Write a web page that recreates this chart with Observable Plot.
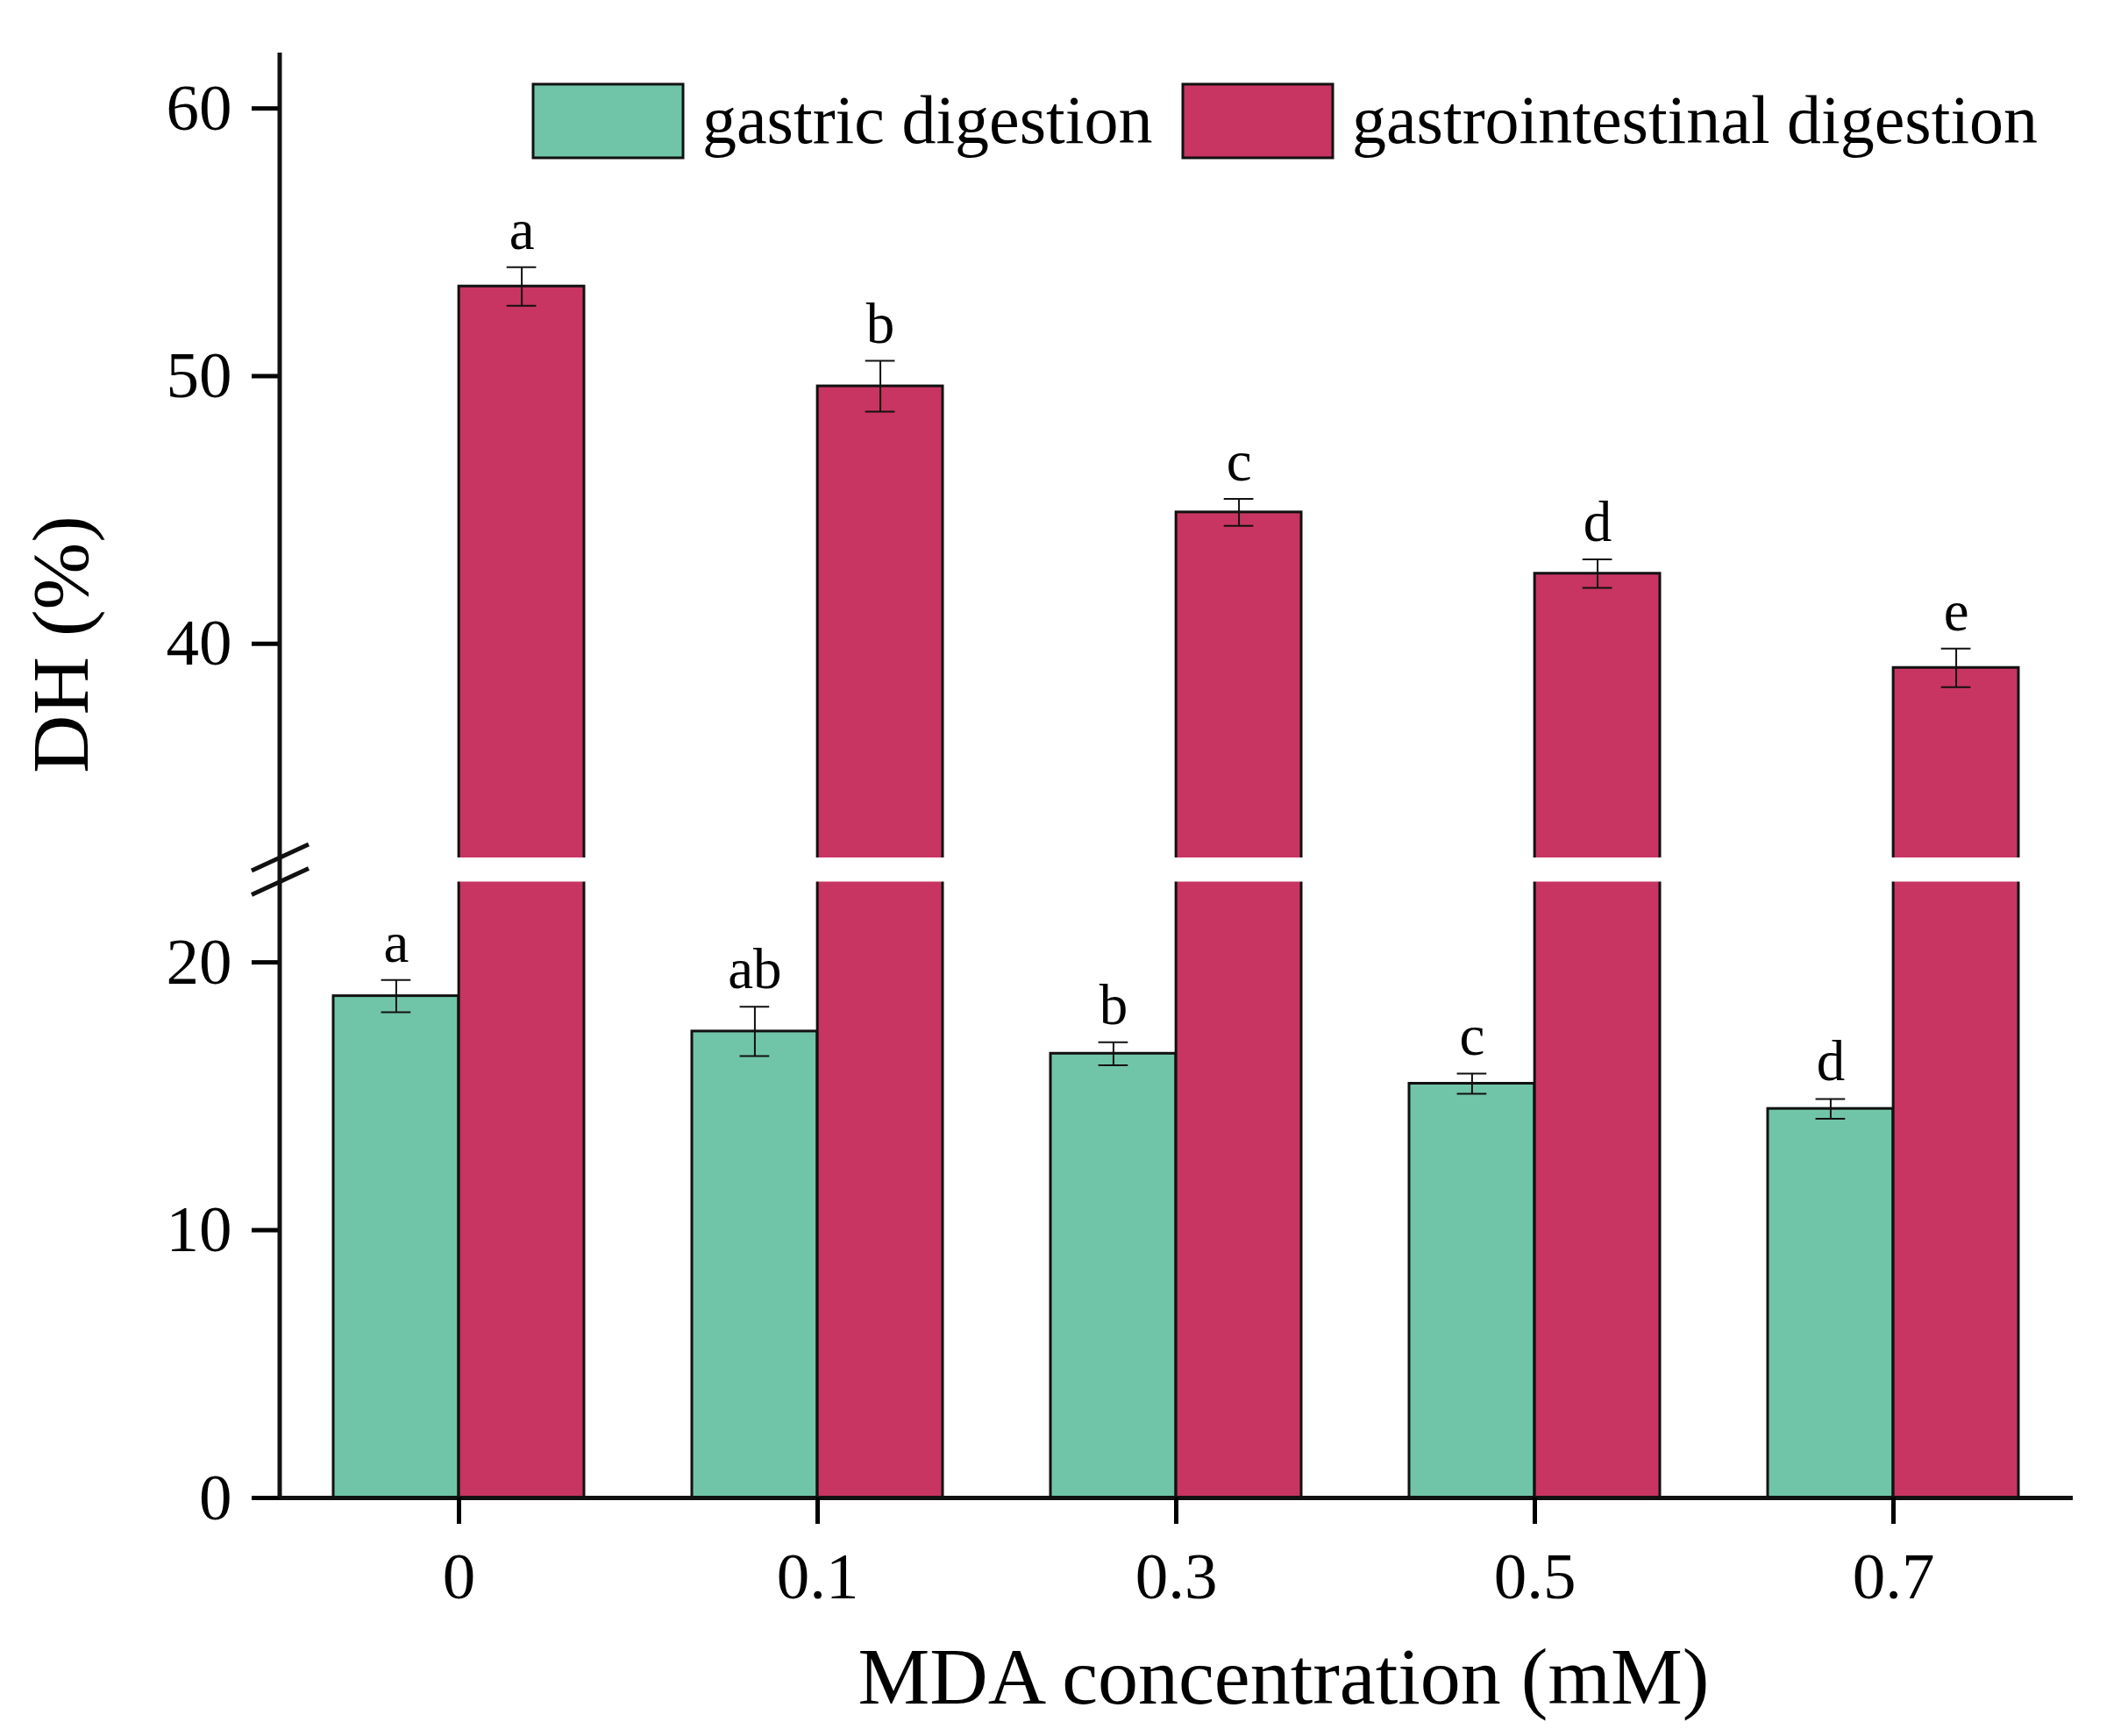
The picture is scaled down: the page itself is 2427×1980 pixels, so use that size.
<!DOCTYPE html>
<html>
<head>
<meta charset="utf-8">
<script src="https://cdn.jsdelivr.net/npm/d3@7"></script>
<script src="https://cdn.jsdelivr.net/npm/@observablehq/plot@0.6"></script>
<style>
  body { margin: 0; background: #fff; }
  #fig { position: relative; width: 2427px; height: 1980px; background: #fff; }
  #fig svg { position: absolute; left: 0; overflow: visible; }
</style>
</head>
<body>
<div id="fig"></div>
<script>
// MDA concentration (mM) on the x axis
const conc = ['0', '0.1', '0.3', '0.5', '0.7']
const series = ['gastric digestion', 'gastrointestinal digestion']

// DH (%) after gastric digestion
const gastric = [18.74, 17.42, 16.59, 15.47, 14.53]
const gastricErr = [0.60, 0.92, 0.43, 0.38, 0.37]
const gastricLetters = ['a', 'ab', 'b', 'c', 'd']

// DH (%) after gastrointestinal digestion
const intestinal = [53.35, 49.62, 44.91, 42.62, 39.10]
const intestinalErr = [0.72, 0.95, 0.50, 0.53, 0.72]
const intestinalLetters = ['a', 'b', 'c', 'd', 'e']

// broken y axis: lower part and upper part
const lowerDomain = [0, 23.9]
const upperDomain = [32, 62.07]
const lowerTicks = [0, 10, 20]
const upperTicks = [40, 50, 60]
const breakAt = 23  // lower bars are cut here

const colors = ['#70c5a8', '#c83562']
const ink = '#111'
const font = '"Liberation Serif", "Times New Roman", serif'

const rowsG = conc.map((c, i) => ({conc: c, value: gastric[i], err: gastricErr[i], letter: gastricLetters[i]}))
const rowsR = conc.map((c, i) => ({conc: c, value: intestinal[i], err: intestinalErr[i], letter: intestinalLetters[i]}))

// layout
const W = 2427
const ML = 319, MR = 63
const padIn = 0.3, padOut = 0.15
const step = (W - ML - MR) / (conc.length - padIn + 2 * padOut)
const bw = step * (1 - padIn)
const half = bw / 2
const capW = 34

const xOpts = {type: 'band', domain: conc, paddingInner: padIn, paddingOuter: padOut}
const svgStyle = {fontFamily: font, color: 'black', background: 'white', overflow: 'visible'}

// bar (side -1 = left half, +1 = right half)
function bars(rows, side, fill) {
  return Plot.barY(rows, {
    x: 'conc', y: 'value', fill, stroke: ink, strokeWidth: 3, clip: true,
    insetLeft: side > 0 ? half : 0, insetRight: side > 0 ? 0 : half
  })
}

function errorMarks(rows, side) {
  const off = side * half / 2
  const top = d => d.value + d.err
  const bot = d => d.value - d.err
  const cap = y => Plot.tickY(rows, {
    x: 'conc', y, stroke: ink, strokeWidth: 2,
    insetLeft: half + off - capW / 2, insetRight: half - off - capW / 2
  })
  return [
    Plot.ruleX(rows, {x: 'conc', y1: bot, y2: top, dx: off, stroke: ink, strokeWidth: 2}),
    cap(top), cap(bot),
    Plot.text(rows, {
      x: 'conc', y: top, text: 'letter', dx: off, dy: -21,
      lineAnchor: 'bottom', fontSize: 65, fill: 'black'
    })
  ]
}

const upper = Plot.plot({
  width: W, height: 978,
  marginLeft: ML, marginRight: MR, marginTop: 60, marginBottom: 0,
  style: svgStyle,
  x: {...xOpts, axis: null},
  y: {domain: upperDomain},
  marks: [
    bars(rowsR, 1, colors[1]),
    ...errorMarks(rowsR, 1),
    Plot.axisY({
      ticks: upperTicks, tickSize: 32, tickPadding: 23, strokeWidth: 5,
      fontSize: 75, label: null
    })
  ]
})

const lower = Plot.plot({
  width: W, height: 1002,
  marginLeft: ML, marginRight: MR, marginTop: 0, marginBottom: 272,
  style: svgStyle,
  x: xOpts,
  y: {domain: lowerDomain},
  marks: [
    bars(rowsG, -1, colors[0]),
    bars(rowsR, 1, colors[1]),
    // white cut across the tall bars at the axis break
    Plot.barY(rowsR, {
      x: 'conc', y1: breakAt, y2: lowerDomain[1], fill: 'white',
      insetLeft: half - 3, insetRight: -3
    }),
    ...errorMarks(rowsG, -1),
    Plot.ruleY([0], {stroke: ink, strokeWidth: 5, insetLeft: -32}),
    Plot.axisX({tickSize: 30, tickPadding: 31, strokeWidth: 5, fontSize: 75, label: null}),
    Plot.axisY({
      ticks: lowerTicks, tickSize: 32, tickPadding: 23, strokeWidth: 5,
      fontSize: 75, label: null
    })
  ]
})

const fig = d3.select('#fig')
fig.append(() => upper).style('top', '0px')
fig.append(() => lower).style('top', '978px')

// y axis line in both panels, taken from each panel's scales
for (const p of [upper, lower]) {
  const x0 = p.scale('x').range[0]
  const [ya, yb] = d3.extent(p.scale('y').range)
  d3.select(p).append('line')
    .attr('x1', x0).attr('x2', x0).attr('y1', ya).attr('y2', yb)
    .attr('stroke', ink).attr('stroke-width', 5)
}

// break marks on the y axis
const ys = lower.scale('y')
const x0 = lower.scale('x').range[0]
const ls = d3.select(lower)
for (const v of [lowerDomain[1], breakAt]) {
  const yy = ys.apply(v)
  ls.append('line')
    .attr('x1', x0 - 32).attr('y1', yy + 15)
    .attr('x2', x0 + 33).attr('y2', yy - 15)
    .attr('stroke', ink).attr('stroke-width', 5)
}

// legend and axis titles
const over = fig.append('svg')
  .attr('width', W).attr('height', 1980)
  .style('top', '0px').style('pointer-events', 'none')
  .style('font-family', font)

const legendX = [608, 1349]
series.forEach((s, i) => {
  over.append('rect')
    .attr('x', legendX[i]).attr('y', 96).attr('width', 171).attr('height', 84)
    .attr('fill', colors[i]).attr('stroke', ink).attr('stroke-width', 3)
  over.append('text')
    .attr('x', legendX[i] + 193).attr('y', 163)
    .attr('font-size', 78).attr('fill', 'black')
    .text(s)
})

over.append('text')
  .attr('x', 1464).attr('y', 1943)
  .attr('text-anchor', 'middle').attr('font-size', 92).attr('fill', 'black')
  .text('MDA concentration (mM)')

over.append('text')
  .attr('transform', 'translate(100,735) rotate(-90)')
  .attr('text-anchor', 'middle').attr('font-size', 92).attr('fill', 'black')
  .text('DH (%)')
</script>
</body>
</html>
